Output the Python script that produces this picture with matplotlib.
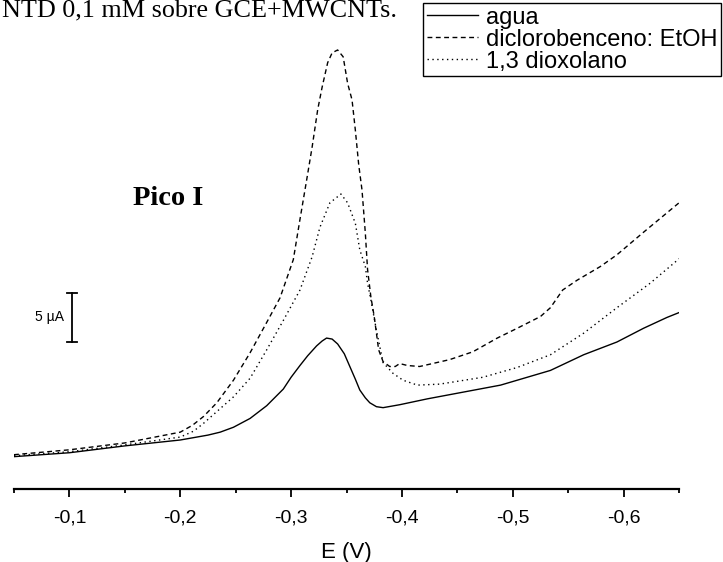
import matplotlib
matplotlib.use('Agg')
import matplotlib.pyplot as plt
from matplotlib.ticker import MultipleLocator, FuncFormatter

# potenciales (V) y corrientes (uA)
E_agua = [-0.050, -0.100, -0.150, -0.200, -0.225, -0.236, -0.248, -0.263, -0.278,
          -0.293, -0.300, -0.308, -0.315, -0.323, -0.328, -0.332, -0.337, -0.342,
          -0.348, -0.353, -0.358, -0.362, -0.367, -0.371, -0.377, -0.383, -0.398,
          -0.423, -0.489, -0.534, -0.564, -0.594, -0.618, -0.639, -0.650]
I_agua = [3.3, 3.7, 4.4, 5.0, 5.5, 5.8, 6.3, 7.2, 8.5,
          10.2, 11.4, 12.6, 13.6, 14.6, 15.1, 15.4, 15.3, 14.8,
          13.8, 12.5, 11.2, 10.1, 9.3, 8.8, 8.4, 8.3, 8.6,
          9.2, 10.6, 12.1, 13.7, 15.0, 16.4, 17.5, 18.0]

E_dcb = [-0.050, -0.100, -0.150, -0.200, -0.211, -0.221, -0.233, -0.248, -0.263,
         -0.278, -0.290, -0.302, -0.308, -0.314, -0.319, -0.324, -0.328, -0.333,
         -0.337, -0.342, -0.347, -0.351, -0.355, -0.358, -0.361, -0.364, -0.367,
         -0.369, -0.372, -0.375, -0.379, -0.383, -0.389, -0.394, -0.398, -0.405,
         -0.416, -0.443, -0.464, -0.486, -0.504, -0.525, -0.534, -0.545, -0.558,
         -0.579, -0.594, -0.618, -0.650]
I_dcb = [3.5, 4.0, 4.7, 5.8, 6.5, 7.4, 8.8, 11.1, 13.9,
         17.0, 19.5, 23.4, 27.5, 31.5, 34.9, 38.7, 41.0, 43.5,
         44.5, 44.8, 44.1, 41.4, 39.7, 36.6, 33.1, 30.5, 26.1,
         22.4, 19.6, 17.6, 14.2, 13.0, 12.5, 12.5, 12.8, 12.6,
         12.5, 13.2, 14.0, 15.4, 16.4, 17.6, 18.5, 20.3, 21.3,
         22.7, 23.9, 26.2, 29.2]

E_diox = [-0.050, -0.100, -0.150, -0.200, -0.212, -0.221, -0.248, -0.263, -0.278,
          -0.293, -0.308, -0.319, -0.326, -0.335, -0.345, -0.351, -0.358, -0.362,
          -0.367, -0.369, -0.372, -0.377, -0.383, -0.392, -0.401, -0.414, -0.434,
          -0.473, -0.504, -0.534, -0.564, -0.594, -0.624, -0.647, -0.650]
I_diox = [3.4, 3.8, 4.5, 5.3, 5.9, 6.7, 9.4, 11.3, 14.2,
          17.2, 20.3, 23.7, 26.7, 29.2, 30.1, 29.2, 27.1, 24.4,
          22.7, 21.0, 19.3, 16.2, 12.9, 11.8, 11.1, 10.6, 10.7,
          11.4, 12.4, 13.7, 15.9, 18.5, 21.0, 23.2, 23.5]

labels = ['agua', 'diclorobenceno: EtOH', '1,3 dioxolano']
scale_bar = [15.0, 20.0]

sans = 'Liberation Sans'
serif = 'Liberation Serif'

fig = plt.figure(figsize=(7.23, 5.62), dpi=100)
ax = fig.add_axes([14 / 723, 1 - 489 / 562, 665 / 723, 489 / 562])

ax.plot(E_agua, I_agua, color='black', lw=1.0, ls='-', label=labels[0])
ax.plot(E_dcb, I_dcb, color='black', lw=1.0, ls=(0, (3.5, 2.5)), label=labels[1])
ax.plot(E_diox, I_diox, color='black', lw=1.0, ls=(0, (1, 2.5)), label=labels[2])

ax.set_xlim(-0.05, -0.65)
ax.set_ylim(0, 489 / 9.8)

for s in ['left', 'right', 'top']:
    ax.spines[s].set_visible(False)
ax.spines['bottom'].set_linewidth(1.6)
ax.yaxis.set_visible(False)

ax.xaxis.set_major_locator(MultipleLocator(0.1))
ax.xaxis.set_minor_locator(MultipleLocator(0.05))
ax.xaxis.set_major_formatter(FuncFormatter(lambda v, p: f'{v:.1f}'.replace('.', ',')))
ax.tick_params(axis='x', which='major', direction='out', length=6, width=1.3, pad=9,
               labelsize=14)
ax.tick_params(axis='x', which='minor', direction='out', length=3, width=1.3)
for t in ax.get_xticklabels():
    t.set_fontfamily(sans)
ax.set_xlabel('E (V)', fontsize=16, fontfamily=sans, labelpad=11)

# barra de escala 5 uA
trans = ax.get_yaxis_transform()
ax.plot([0.087, 0.087], scale_bar, color='black', lw=1.3, transform=trans)
for yv in scale_bar:
    ax.plot([0.080, 0.094], [yv, yv], color='black', lw=1.3, transform=trans)
ax.text(0.075, sum(scale_bar) / 2, '5 µA', transform=trans, ha='right', va='center',
        fontsize=10, fontfamily=sans)

ax.text(-0.157, 29.0, 'Pico I', fontsize=20.5, fontweight='bold', fontfamily=serif,
        va='baseline', ha='left')

fig.text(0.003, 1 - 16 / 562, 'NTD 0,1 mM sobre GCE+MWCNTs.', fontsize=18.8,
         fontfamily=serif, va='baseline', ha='left')

leg = ax.legend(loc='upper left', bbox_to_anchor=(423 / 723, 1 - 3 / 562),
                bbox_transform=fig.transFigure, borderaxespad=0, frameon=True,
                fancybox=False, edgecolor='black', framealpha=1,
                prop={'family': sans, 'size': 17}, handlelength=2.2,
                handletextpad=0.3, labelspacing=0.0, borderpad=0.15)
leg.get_frame().set_linewidth(1.0)

fig.savefig('out.png', dpi=100)
